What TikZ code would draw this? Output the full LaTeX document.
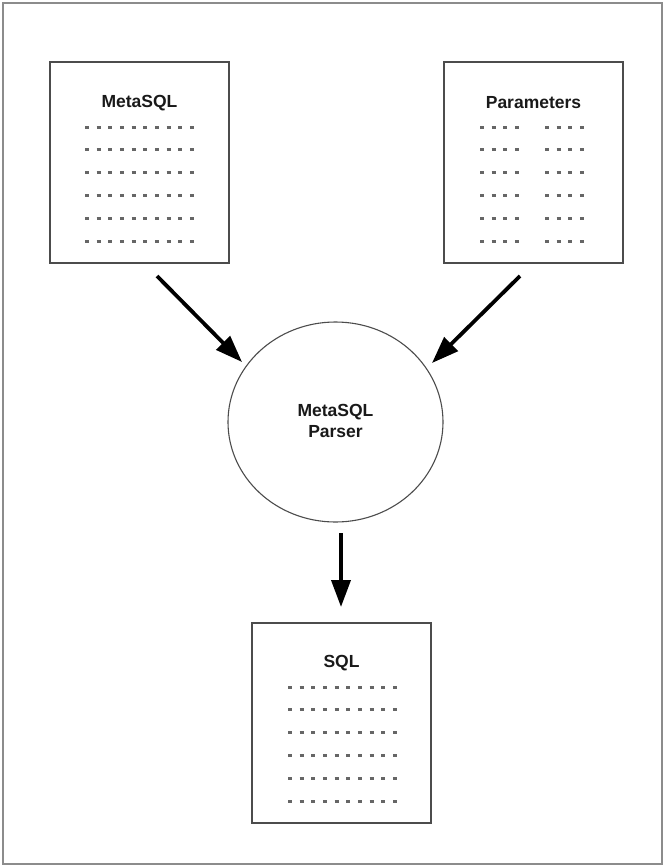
\documentclass[tikz,border=0pt]{standalone}
\usepackage{fontspec}
\setmainfont{Liberation Sans}
\usetikzlibrary{arrows.meta,shapes.geometric}
\begin{document}
\begin{tikzpicture}[x=1pt,y=-1pt,
  docbox/.style={draw=black!70,line width=1.6pt,minimum width=179pt,minimum height=201pt,inner sep=0pt},
  title/.style={font=\fontsize{17.5}{20}\selectfont\bfseries,text=black!90},
  dashrow/.style={draw=black!60,line width=3pt,dash pattern=on 4pt off 7.65pt},
  flow/.style={line width=3.8pt,-{Triangle[length=27pt,width=19pt]}}]
\useasboundingbox (0,0) rectangle (665,865);
\draw[black!45,line width=2.2pt] (3,3) rectangle (662,864);
% boxes
\node[docbox] (meta) at (139.5,162.5) {};
\node[docbox] (param) at (533.5,162.5) {};
\node[docbox,minimum height=200pt] (sql) at (341.5,723) {};
\node[ellipse,draw=black!70,line width=1.1pt,minimum width=215pt,minimum height=200pt,inner sep=0pt] (parser) at (335.5,422) {};
% titles
\node[title] (tmeta) at (139.5,103) {MetaSQL};
\node[title] (tparam) at (533.5,103) {Parameters};
\node[title] (tsql) at (341.5,663) {SQL};
\node[title,align=center] (tparser) at (335.5,421) {MetaSQL\\[1pt]Parser};
% dash rows
\foreach \y in {127,149.8,172.6,195.4,218.2,241} {
  \draw[dashrow] (85,\y) -- (193.9,\y);
  \draw[dashrow] (480,\y) -- (519,\y);
  \draw[dashrow] (545,\y) -- (584,\y);
}
\foreach \y in {687,709.8,732.6,755.4,778.2,801} {
  \draw[dashrow] (288,\y) -- (396.9,\y);
}
% arrows
\coordinate (m1) at (157,276);
\coordinate (m2) at (242,362);
\coordinate (p1) at (520,276);
\coordinate (p2) at (432,363);
\coordinate (s1) at (341,533);
\coordinate (s2) at (341,607);
\draw[flow] (m1) -- (m2);
\draw[flow] (p1) -- (p2);
\draw[flow] (s1) -- (s2);
\end{tikzpicture}
\end{document}
